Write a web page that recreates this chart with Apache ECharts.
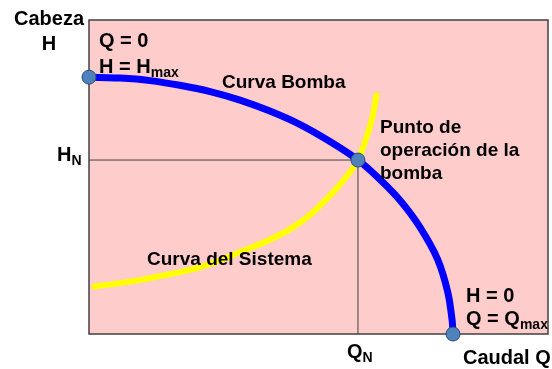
<!DOCTYPE html>
<html>
<head>
<meta charset="utf-8">
<script src="https://cdn.jsdelivr.net/npm/echarts@6/dist/echarts.min.js"></script>
<style>
  html, body { margin: 0; padding: 0; background: #ffffff; }
  #chart { width: 552px; height: 369px; }
</style>
</head>
<body>
<div id="chart"></div>
<script>
// Pump characteristic curve (caudal Q vs cabeza H)
const pumpQ = [0, 6.8, 13.3, 19.8, 26.4, 32.9, 39.4, 46.0, 52.5, 58.6, 63.4, 67.8, 72.1, 76.0, 78.2, 79.1, 79.3];
const pumpH = [81.8, 81.5, 80.7, 79.2, 77.2, 74.5, 71.0, 66.7, 61.3, 55.4, 49.2, 42.5, 34.0, 23.6, 13.1, 4.5, 0];

// System curve
const sysQ = [0.65, 6.75, 13.3, 22.0, 27.5, 32.9, 38.3, 43.8, 48.1, 53.2, 56.9, 58.6, 60.1, 61.7, 62.7];
const sysH = [15.0, 16.2, 17.8, 20.4, 22.9, 26.1, 29.3, 33.4, 37.9, 45.2, 51.6, 55.4, 61.1, 68.8, 76.8];

// Key points: shut-off head, operating point, run-out flow
const Hmax = 81.8;
const Qmax = 79.3;
const QN = 58.6;
const HN = 55.4;

const FONT = '"Liberation Sans", Arial, sans-serif';
const MAIN = 'bold 20px ' + FONT;
const NOTE = 'bold 19px ' + FONT;
const SUB = 'bold 14px ' + FONT;

const measureCtx = document.createElement('canvas').getContext('2d');
function textWidth(str, font) {
  measureCtx.font = font;
  return measureCtx.measureText(str).width;
}

function label(text, x, y, align, font) {
  return {
    type: 'text', x: x, y: y, silent: true, z: 10,
    style: {
      text: text, font: font || MAIN, fill: '#000',
      textAlign: align || 'left', textVerticalAlign: 'middle',
      align: align || 'left', verticalAlign: 'middle'
    }
  };
}

// main text followed by a subscript
function subLabel(main, sub, x, y) {
  const w = textWidth(main, MAIN);
  return [label(main, x, y, 'left', MAIN), label(sub, x + w, y + 6, 'left', SUB)];
}

const zip = (a, b) => a.map((v, i) => [v, b[i]]);

const chart = echarts.init(document.getElementById('chart'), null, { renderer: 'canvas' });

chart.setOption({
  animation: false,
  backgroundColor: '#ffffff',
  grid: {
    left: 89, right: 4, top: 20, bottom: 35,
    show: true, backgroundColor: '#ffcccc', borderColor: '#404040', borderWidth: 1.5
  },
  xAxis: {
    type: 'value', min: 0, max: 100,
    axisLine: { show: false }, axisTick: { show: false },
    axisLabel: { show: false }, splitLine: { show: false }
  },
  yAxis: {
    type: 'value', min: 0, max: 100,
    axisLine: { show: false }, axisTick: { show: false },
    axisLabel: { show: false }, splitLine: { show: false }
  },
  series: [
    {
      name: 'guías',
      type: 'line',
      data: [[0, HN], [QN, HN], [QN, 0]],
      symbol: 'none', silent: true, clip: false, z: 1,
      lineStyle: { color: '#404040', width: 1 }
    },
    {
      name: 'Curva del Sistema',
      type: 'line',
      data: zip(sysQ, sysH),
      smooth: 0.3, symbol: 'none', clip: false, z: 2,
      lineStyle: { color: '#ffff00', width: 6, cap: 'butt' }
    },
    {
      name: 'Curva Bomba',
      type: 'line',
      data: zip(pumpQ, pumpH),
      smooth: 0.3, symbol: 'none', clip: false, z: 3,
      lineStyle: { color: '#0000ff', width: 7, cap: 'butt' }
    },
    {
      name: 'puntos',
      type: 'scatter',
      data: [[0, Hmax], [QN, HN], [Qmax, 0]],
      symbolSize: 14, clip: false, z: 5,
      itemStyle: { color: '#4f81bd', borderColor: '#2c4d75', borderWidth: 1, opacity: 1 }
    }
  ],
  graphic: [
    label('Cabeza', 49, 19, 'center'),
    label('H', 49, 44, 'center'),
    label('Q = 0', 99, 41),
    ...subLabel('H = H', 'max', 99, 67),
    label('Curva Bomba', 222, 83, 'left', NOTE),
    label('Punto de', 380, 128, 'left', NOTE),
    label('operación de la', 380, 151, 'left', NOTE),
    label('bomba', 380, 174, 'left', NOTE),
    label('Curva del Sistema', 147, 260, 'left', NOTE),
    ...subLabel('H', 'N', 57, 155),
    ...subLabel('Q', 'N', 347, 352),
    label('H = 0', 466, 296),
    ...subLabel('Q = Q', 'max', 466, 319),
    label('Caudal Q', 463, 358)
  ]
});
</script>
</body>
</html>
